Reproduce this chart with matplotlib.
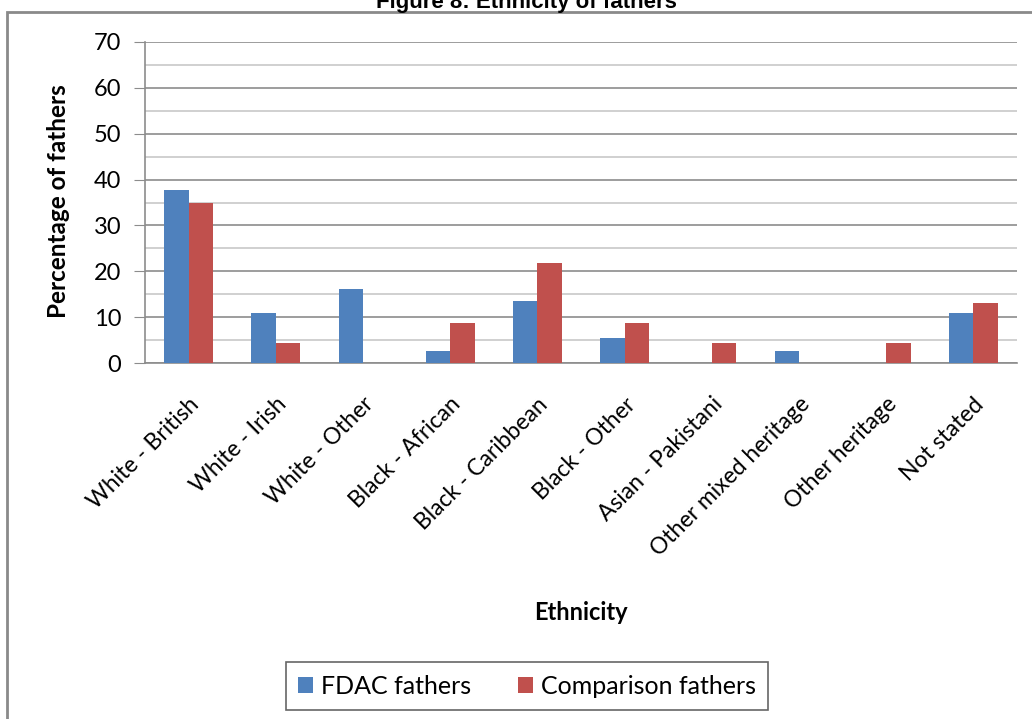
import matplotlib
matplotlib.use('Agg')
import matplotlib.pyplot as plt
import numpy as np
from matplotlib.patches import Rectangle

categories = ['White - British', 'White - Irish', 'White - Other', 'Black - African',
              'Black - Caribbean', 'Black - Other', 'Asian - Pakistani',
              'Other mixed heritage', 'Other heritage', 'Not stated']
fdac = [37.8, 10.8, 16.2, 2.7, 13.5, 5.4, 0, 2.7, 0, 10.8]
comparison = [34.8, 4.4, 0, 8.7, 21.7, 8.7, 4.4, 0, 4.4, 13.0]

plt.rcParams['font.family'] = ['Lato', 'DejaVu Sans']

fig = plt.figure(figsize=(10.32, 7.19), dpi=100)
ax = fig.add_axes([145 / 1032, 1 - 363 / 719, 872 / 1032, 321 / 719])

# outer chart frame, runs off the right and bottom edges
fig.patches.append(Rectangle((7 / 1032, -0.05), 1.1, 1 - 12 / 719 + 0.05,
                             transform=fig.transFigure, fill=False,
                             edgecolor='#8a8a8a', linewidth=2))

x = np.arange(len(categories))
w = 0.28
ax.bar(x - w / 2, fdac, w, color='#4F81BD', label='FDAC fathers', zorder=3)
ax.bar(x + w / 2, comparison, w, color='#C0504D', label='Comparison fathers', zorder=3)

ax.set_xlim(-0.5, len(categories) - 0.5)
ax.set_ylim(0, 70)
ax.set_yticks(range(0, 71, 10))
ax.set_yticks(range(5, 70, 10), minor=True)
ax.grid(axis='y', which='major', color='#8c8c8c', linewidth=1.2, zorder=0)
ax.grid(axis='y', which='minor', color='#c8c8c8', linewidth=1.2, zorder=0)
ax.tick_params(axis='y', which='major', length=8, color='#8c8c8c', labelsize=17, pad=9)
ax.tick_params(axis='y', which='minor', length=0)

ax.set_xticks(x)
ax.set_xticklabels(categories, rotation=45, ha='right', rotation_mode='anchor')
ax.tick_params(axis='x', length=0, labelsize=16.5, pad=22)

for s in ['top', 'right']:
    ax.spines[s].set_visible(False)
for s in ['left', 'bottom']:
    ax.spines[s].set_color('#8c8c8c')
    ax.spines[s].set_linewidth(1.2)

ax.set_ylabel('Percentage of fathers', fontsize=17.5, fontweight='bold')
ax.yaxis.set_label_coords(-0.086, 0.505)

fig.text(581 / 1032, 1 - 613 / 719, 'Ethnicity', ha='center', va='center',
         fontsize=17, fontweight='bold')

fig.text(526 / 1032, 1 - 8 / 719, 'Figure 8: Ethnicity of fathers', ha='center',
         va='baseline', fontsize=16, fontweight='bold', family='Liberation Sans')

leg = fig.legend(loc='center', bbox_to_anchor=(527 / 1032, 1 - 686 / 719), ncol=2,
                 fontsize=18, frameon=True, fancybox=False, edgecolor='#404040',
                 handlelength=0.6, handleheight=0.6, handletextpad=0.3,
                 columnspacing=1.9, borderpad=0.5, borderaxespad=0)
leg.get_frame().set_linewidth(1.2)

fig.savefig('out.png', dpi=100)
